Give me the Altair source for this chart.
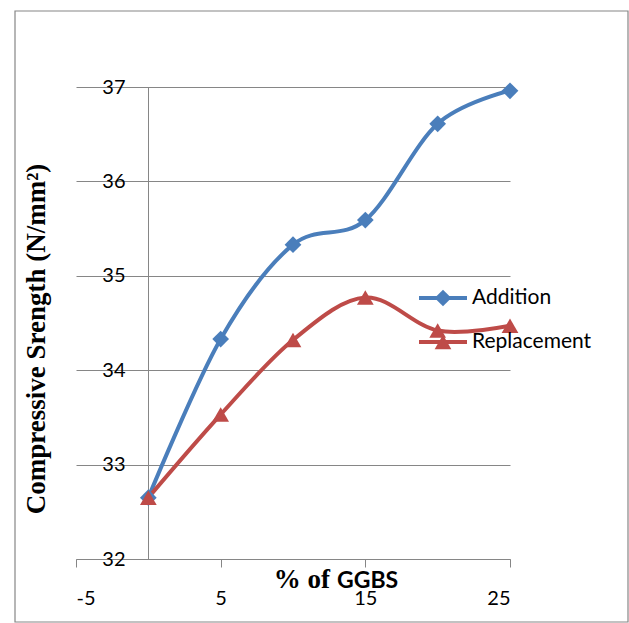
import altair as alt
import pandas as pd

# Compressive strength vs. % of GGBS for two mix approaches
ggbs = [0, 5, 10, 15, 20, 25]
addition = [32.65, 34.33, 35.33, 35.59, 36.61, 36.96]
replacement = [32.65, 33.53, 34.32, 34.77, 34.42, 34.47]

series_names = ["Addition", "Replacement"]
series_colors = ["#4A7EBB", "#BE4B48"]
series_shapes = ["diamond", "triangle-up"]

x_ticks = [-5, 5, 15, 25]
y_ticks = [32, 33, 34, 35, 36, 37]

GRID = "#868686"
LINE_W = 4

df = pd.DataFrame({
    "ggbs": ggbs + ggbs,
    "strength": addition + replacement,
    "series": [series_names[0]] * len(ggbs) + [series_names[1]] * len(ggbs),
})
legend_df = pd.DataFrame({"series": series_names})
one_row = pd.DataFrame({"k": [0]})

x_scale = alt.Scale(domain=[-5, 25], nice=False, zero=False)
y_scale = alt.Scale(domain=[32, 37], nice=False, zero=False)
color = alt.Color("series:N", scale=alt.Scale(domain=series_names, range=series_colors), legend=None)
shape = alt.Shape("series:N", scale=alt.Scale(domain=series_names, range=series_shapes), legend=None)

x_axis = alt.Axis(
    values=x_ticks, grid=False, title=None,
    domainColor=GRID, tickColor=GRID, tickSize=8, labelPadding=21,
    labelFont="Lato", labelFontSize=20, labelColor="black",
    labelExpr="'' + datum.value",
)
# vertical axis sits on x = 0, with gridlines spanning the whole x range
y_axis = alt.Axis(
    values=y_ticks, grid=True, gridColor=GRID, title=None, offset=-72,
    domainColor=GRID, ticks=False, labelPadding=23,
    labelFont="Lato", labelFontSize=20, labelColor="black", labelBaseline="middle",
)

base = alt.Chart(df).encode(
    x=alt.X("ggbs:Q", scale=x_scale, axis=x_axis),
    y=alt.Y("strength:Q", scale=y_scale, axis=y_axis),
    color=color,
)
lines = base.mark_line(interpolate="cardinal", strokeWidth=LINE_W)
points = base.mark_point(filled=True, opacity=1, size=280, strokeWidth=0).encode(shape=shape)

# in-plot legend: line segment with marker, then label
legend_layers = []
for i, name in enumerate(series_names):
    ypos = 211 + 44 * i
    sel = alt.Chart(legend_df).transform_filter(alt.datum.series == name)
    legend_layers.append(
        sel.mark_rule(strokeWidth=LINE_W).encode(
            x=alt.value(343), x2=alt.value(391), y=alt.value(ypos), color=color
        )
    )
    legend_layers.append(
        sel.mark_point(filled=True, opacity=1, size=280, strokeWidth=0).encode(
            x=alt.value(367), y=alt.value(ypos), color=color, shape=shape
        )
    )
    legend_layers.append(
        sel.mark_text(align="left", baseline="middle", font="Lato", fontSize=21, color="black").encode(
            x=alt.value(396), y=alt.value(ypos), text="series:N"
        )
    )

y_title = alt.Chart(one_row).mark_text(
    angle=270, align="center", baseline="middle",
    font="Liberation Serif", fontWeight="bold", fontSize=27, color="black",
).encode(x=alt.value(-39), y=alt.value(252), text=alt.value("Compressive Srength (N/mm²)"))

x_title_a = alt.Chart(one_row).mark_text(
    align="right", baseline="alphabetic",
    font="Liberation Serif", fontWeight="bold", fontSize=27, color="black",
).encode(x=alt.value(254), y=alt.value(501), text=alt.value("% of"))

x_title_b = alt.Chart(one_row).mark_text(
    align="left", baseline="alphabetic",
    font="Lato", fontWeight="bold", fontSize=23, color="black",
).encode(x=alt.value(261), y=alt.value(501), text=alt.value("GGBS"))

border = alt.Chart(one_row).mark_rect(fillOpacity=0, stroke=GRID, strokeWidth=1.2).encode(
    x=alt.value(-61), x2=alt.value(552), y=alt.value(-76), y2=alt.value(535)
)

chart = alt.layer(
    border, lines, points, *legend_layers, y_title, x_title_a, x_title_b
).properties(
    width=434,
    height=472,
    autosize=alt.AutoSizeParams(type="none"),
    padding={"left": 76, "top": 87, "right": 119, "bottom": 64},
    background="white",
).configure_view(strokeWidth=0)

chart.save("out.html", embed_options={"renderer": "svg", "actions": False})
